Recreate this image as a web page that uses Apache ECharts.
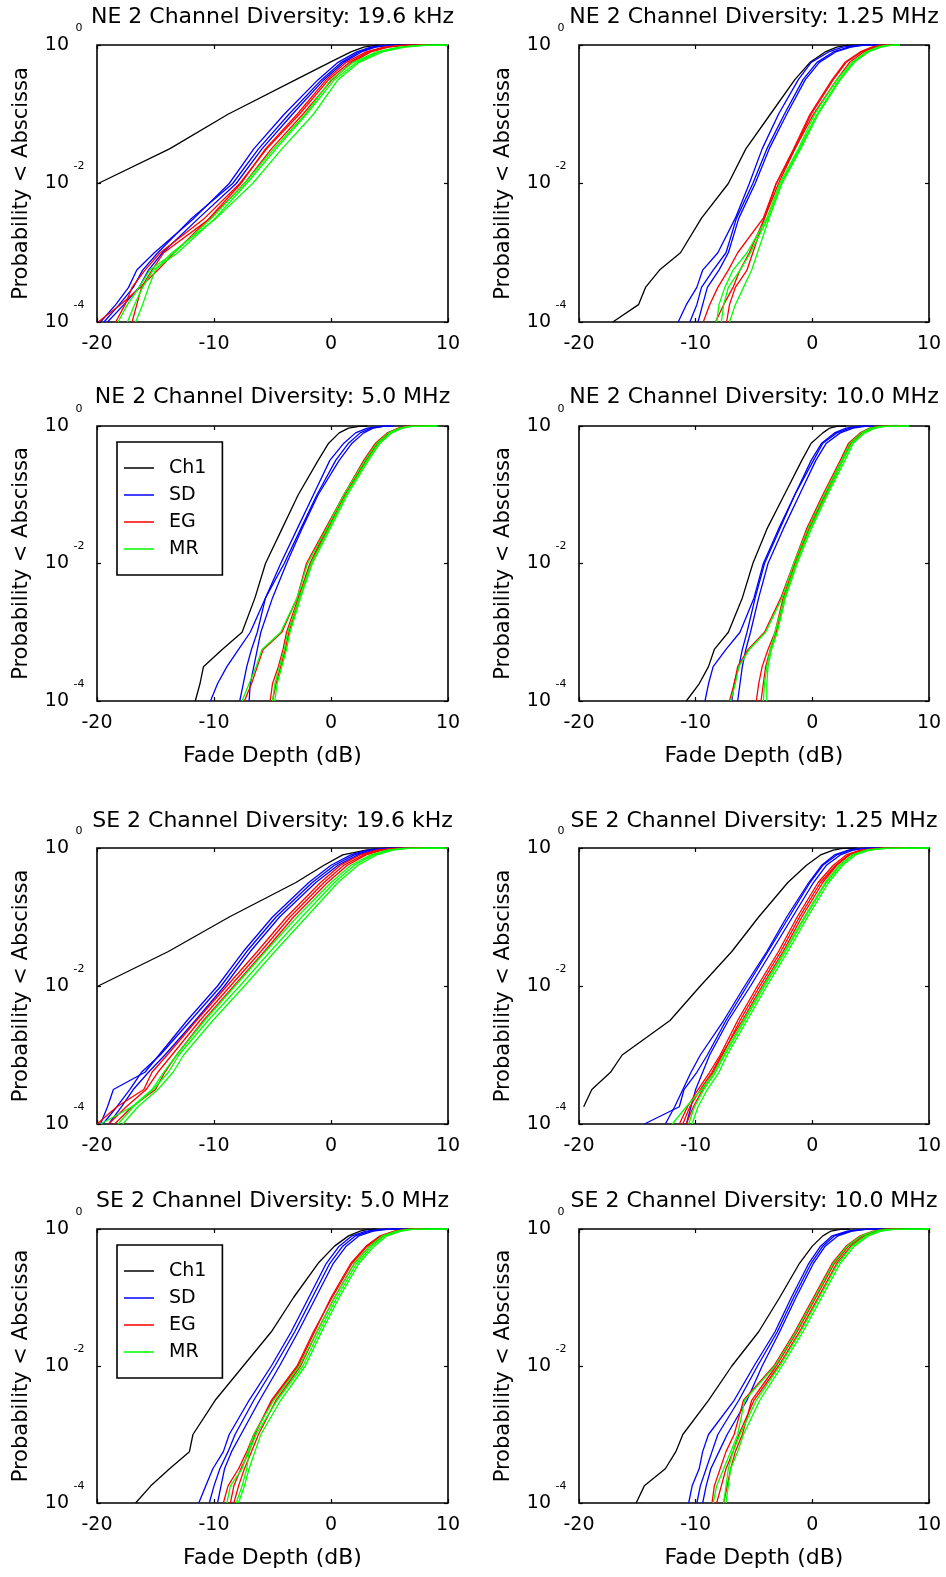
<!DOCTYPE html>
<html><head><meta charset="utf-8">
<script src="https://cdn.jsdelivr.net/npm/echarts@6/dist/echarts.min.js"></script>
<style>html,body{margin:0;padding:0;background:#fff}#c{width:946px;height:1577px}</style>
</head><body><div id="c"></div>
<script>
// Probability levels (ordinate) at which each curve's fade depth (dB) was read
const probLevels = [1e-4, 1.78e-4, 3.16e-4, 5.62e-4, 1e-3, 3.16e-3, 1e-2, 3.16e-2, 0.1, 0.316, 0.562, 0.794, 0.933, 0.989, 1];

const panelTitles = [
  'NE 2 Channel Diversity: 19.6 kHz', 'NE 2 Channel Diversity: 1.25 MHz',
  'NE 2 Channel Diversity: 5.0 MHz', 'NE 2 Channel Diversity: 10.0 MHz',
  'SE 2 Channel Diversity: 19.6 kHz', 'SE 2 Channel Diversity: 1.25 MHz',
  'SE 2 Channel Diversity: 5.0 MHz', 'SE 2 Channel Diversity: 10.0 MHz'
];
const seriesNames = ['Ch1', 'SD', 'EG', 'MR'];
const xTickValues = [-20, -10, 0, 10];
const yTickValues = [1e-4, 1e-2, 1];

// ---- NE 19.6 kHz ----
const NE_19k6_Ch1 = [null,null,null,null,null,null,-19.9,-13.8,-8.8,-3.0,-0.1,1.7,2.8,3.8,6.0];
const NE_19k6_SD = [
  [-19.7,-18.4,-17.3,-16.6,-15.1,-11.7,-8.7,-6.6,-4.0,-1.1,0.6,2.2,3.4,4.5,7.0],
  [-19.4,-18.1,-16.9,-16.1,-14.8,-11.9,-8.4,-6.2,-3.6,-0.8,0.9,2.4,3.6,4.8,7.2],
  [-19.1,-17.7,-16.4,-15.6,-14.4,-11.3,-8.1,-5.9,-3.3,-0.6,1.1,2.6,3.8,5.0,7.5]];
const NE_19k6_EG = [
  [-19.9,-18.0,-16.3,-14.8,-13.4,-10.4,-7.7,-5.6,-2.9,-0.4,1.3,3.0,4.5,5.9,8.0],
  [-18.4,-17.6,-17.0,-15.9,-14.6,-10.8,-7.8,-5.5,-2.7,-0.2,1.6,3.2,4.7,6.1,8.3],
  [-17.0,-16.6,-16.2,-15.3,-14.3,-10.3,-7.4,-5.1,-2.4,0.1,1.8,3.4,4.9,6.3,8.5]];
const NE_19k6_MR = [
  [-18.2,-17.4,-16.4,-15.5,-13.4,-10.2,-7.4,-4.9,-2.2,0.0,1.9,3.9,5.8,7.5,10],
  [-17.4,-16.8,-16.1,-15.2,-13.1,-9.9,-7.2,-4.7,-2.1,0.3,2.2,4.1,6.0,7.7,10],
  [-16.7,-16.1,-15.6,-15.0,-13.6,-9.8,-6.7,-4.2,-1.5,0.6,2.4,4.4,6.3,8.0,10]];

// ---- NE 1.25 MHz ----
const NE_1M25_Ch1 = [-17.1,-14.9,-14.3,-13.1,-11.3,-9.5,-7.2,-5.7,-3.6,-1.5,-0.2,1.1,2.1,2.9,4.9];
const NE_1M25_SD = [
  [-11.5,-10.8,-9.9,-9.4,-8.1,-6.6,-5.4,-4.3,-2.9,-1.2,-0.1,1.4,2.6,3.8,4.9],
  [-10.5,-9.9,-9.5,-8.5,-7.4,-6.5,-5.1,-3.9,-2.4,-0.8,0.4,1.8,3.1,4.1,5.5],
  [-9.8,-9.4,-9.0,-8.0,-7.2,-6.3,-4.9,-3.7,-2.2,-0.6,0.6,2.0,3.3,4.3,5.7]];
const NE_1M25_EG = [
  [-9.35,-8.8,-8.1,-7.2,-6.4,-4.2,-3.1,-1.5,0.1,2.1,3.2,4.4,5.4,6.1,6.9],
  [-8.3,-7.6,-6.8,-6.2,-5.4,-4.1,-2.9,-1.5,-0.1,1.8,2.9,4.2,5.2,5.9,6.8],
  [-7.35,-7.1,-6.6,-5.6,-5.1,-4.1,-3.1,-1.6,-0.2,1.7,2.8,4.1,5.1,5.8,6.6]];
const NE_1M25_MR = [
  [-8.2,-8.0,-7.5,-6.8,-5.6,-3.9,-2.8,-1.2,0.2,2.1,3.4,4.6,5.6,6.3,7.5],
  [-7.8,-7.6,-7.2,-6.2,-5.3,-3.8,-2.7,-1.1,0.4,2.3,3.5,4.7,5.7,6.5,7.5],
  [-7.1,-6.6,-5.9,-5.2,-4.7,-3.7,-2.6,-1.0,0.5,2.4,3.6,4.8,5.9,6.7,7.5]];

// ---- NE 5.0 MHz ----
const NE_5M0_Ch1 = [-11.6,-11.2,-10.9,-9.3,-7.6,-6.5,-5.6,-4.2,-2.8,-1.1,-0.2,0.7,1.5,2.4,3.1];
const NE_5M0_SD = [
  [-10.3,-9.7,-8.9,-7.9,-6.9,-5.6,-4.3,-2.9,-1.5,-0.1,1.1,2.1,3.1,4.2,5.1],
  [-7.8,-7.5,-7.2,-6.8,-6.3,-5.6,-4.0,-2.6,-1.2,0.4,1.5,2.5,3.4,4.4,5.2],
  [-7.0,-6.9,-6.6,-6.3,-6.0,-5.0,-3.8,-2.5,-1.1,0.7,1.8,2.8,3.6,4.5,5.4]];
const NE_5M0_EG = [
  [-7.4,-6.8,-6.3,-5.8,-4.2,-2.9,-2.1,-0.5,1.1,2.8,3.8,4.8,5.8,6.5,8.8],
  [-5.2,-5.0,-4.5,-4.1,-3.8,-2.8,-1.8,-0.4,1.1,2.9,3.9,4.9,5.8,6.5,8.5],
  [-5.0,-4.7,-4.3,-3.9,-3.6,-2.7,-1.7,-0.3,1.2,3.0,4.0,5.0,5.9,6.6,8.8]];
const NE_5M0_MR = [
  [-7.6,-7.0,-6.4,-5.9,-4.3,-2.9,-2.0,-0.4,1.1,2.9,3.9,4.9,5.9,6.7,9.0],
  [-5.0,-4.8,-4.4,-4.0,-3.7,-2.7,-1.7,-0.2,1.3,3.1,4.1,5.1,6.0,6.8,9.0],
  [-4.8,-4.6,-4.2,-3.8,-3.5,-2.6,-1.6,-0.1,1.4,3.2,4.2,5.2,6.1,6.9,9.2]];

// ---- NE 10.0 MHz ----
const NE_10M0_Ch1 = [-10.8,-9.7,-8.9,-8.4,-7.2,-6.0,-5.1,-3.9,-2.4,-0.9,-0.1,0.9,1.5,2.1,2.9];
const NE_10M0_SD = [
  [-9.2,-8.9,-8.5,-7.4,-6.2,-5.0,-4.2,-2.9,-1.5,0.1,0.9,2.1,3.2,4.1,4.9],
  [-6.9,-6.7,-6.3,-6.0,-5.6,-4.9,-4.1,-2.8,-1.5,-0.1,0.8,1.9,2.9,3.9,4.8],
  [-6.4,-6.2,-6.0,-5.7,-5.3,-4.6,-3.8,-2.5,-1.1,0.3,1.2,2.4,3.5,4.5,5.3]];
const NE_10M0_EG = [
  [-7.1,-6.7,-6.4,-5.5,-4.1,-2.7,-1.6,-0.5,0.9,2.4,3.1,4.1,4.9,5.8,8.0],
  [-4.8,-4.6,-4.3,-3.8,-3.2,-2.5,-1.5,-0.4,1.1,2.5,3.2,4.2,5.1,5.9,8.0],
  [-4.4,-4.2,-4.0,-3.6,-3.1,-2.4,-1.4,-0.3,1.2,2.6,3.3,4.3,5.2,6.0,8.2]];
const NE_10M0_MR = [
  [-7.0,-6.6,-6.3,-5.4,-4.0,-2.6,-1.6,-0.4,1.0,2.5,3.2,4.2,5.0,5.9,8.3],
  [-4.2,-4.1,-3.9,-3.6,-3.2,-2.4,-1.4,-0.2,1.2,2.6,3.4,4.4,5.3,6.1,8.3],
  [-3.9,-3.9,-3.8,-3.5,-3.0,-2.3,-1.3,-0.1,1.3,2.8,3.5,4.5,5.4,6.2,8.3]];

// ---- SE 19.6 kHz ----
const SE_19k6_Ch1 = [null,null,null,null,null,null,-19.9,-13.9,-8.7,-3.0,-0.6,1.0,3.0,4.3,6.0];
const SE_19k6_SD = [
  [-19.7,-19.1,-18.6,-15.9,-14.7,-12.3,-9.7,-7.5,-5.0,-1.9,0.0,1.7,3.1,4.5,6.8],
  [-19.5,-18.3,-17.2,-16.2,-14.6,-12.0,-9.4,-7.2,-4.7,-1.6,0.3,2.0,3.4,4.8,7.0],
  [-19.0,-17.9,-16.9,-15.6,-14.2,-11.6,-9.1,-6.9,-4.4,-1.3,0.6,2.3,3.7,5.0,7.2]];
const SE_19k6_EG = [
  [-20.0,-18.3,-16.0,-15.3,-14.0,-11.5,-8.9,-6.3,-3.8,-0.9,0.8,2.5,3.9,5.4,7.6],
  [-19.0,-17.5,-15.8,-14.8,-13.6,-11.2,-8.6,-6.0,-3.5,-0.6,1.1,2.8,4.2,5.6,7.8],
  [-18.5,-17.0,-15.0,-14.2,-13.2,-10.9,-8.3,-5.7,-3.2,-0.3,1.4,3.0,4.4,5.8,8.0]];
const SE_19k6_MR = [
  [-19.7,-17.0,-15.3,-14.3,-13.2,-10.8,-8.2,-5.6,-2.9,0.0,1.7,3.4,4.8,6.1,9.5],
  [-18.2,-16.9,-15.2,-13.9,-13.0,-10.5,-7.8,-5.2,-2.5,0.3,2.0,3.6,5.0,6.3,9.8],
  [-17.8,-16.5,-14.8,-13.5,-12.6,-10.1,-7.4,-4.8,-2.1,0.6,2.3,3.9,5.3,6.6,10]];

// ---- SE 1.25 MHz ----
const SE_1M25_Ch1 = [null,-19.6,-18.9,-17.3,-16.3,-12.2,-9.6,-6.9,-4.6,-2.1,-0.5,0.7,1.8,2.6,3.8];
const SE_1M25_SD = [
  [-14.4,-11.4,-11.0,-9.9,-9.0,-7.4,-5.6,-3.8,-2.0,-0.2,0.9,2.1,3.2,4.4,5.8],
  [-12.6,-11.8,-11.1,-10.4,-9.6,-7.6,-5.8,-3.9,-2.2,-0.3,0.8,1.9,3.1,4.2,5.5],
  [-10.8,-10.4,-10.0,-9.4,-8.8,-7.2,-5.3,-3.5,-1.7,0.1,1.2,2.4,3.5,4.6,5.9]];
const SE_1M25_EG = [
  [-11.4,-10.7,-9.8,-8.8,-7.9,-6.4,-4.7,-2.9,-1.3,0.5,1.8,2.9,4.1,5.5,7.8],
  [-10.8,-10.2,-9.4,-8.5,-7.7,-6.2,-4.5,-2.7,-1.1,0.7,2.0,3.1,4.3,5.7,8.0],
  [-11.1,-10.5,-9.6,-8.6,-7.8,-6.0,-4.3,-2.5,-0.9,0.9,2.1,3.2,4.4,5.8,8.0]];
const SE_1M25_MR = [
  [-12.0,-10.8,-9.5,-8.4,-7.6,-5.9,-4.2,-2.4,-0.7,1.1,2.3,3.4,4.6,6.0,10],
  [-10.6,-10.1,-9.3,-8.3,-7.5,-5.8,-4.1,-2.3,-0.6,1.2,2.4,3.5,4.7,6.1,10],
  [-10.3,-9.8,-9.0,-8.0,-7.3,-5.6,-3.9,-2.1,-0.4,1.4,2.6,3.7,4.9,6.3,10]];

// ---- SE 5.0 MHz ----
const SE_5M0_Ch1 = [-16.7,-15.4,-13.8,-12.1,-11.8,-9.9,-7.5,-5.1,-3.2,-1.1,0.3,1.5,2.5,3.1,3.9];
const SE_5M0_SD = [
  [-11.3,-10.7,-10.1,-9.2,-8.7,-7.0,-5.1,-3.4,-1.9,-0.4,0.7,1.8,3.0,4.2,6.0],
  [-10.4,-10.0,-9.5,-8.8,-8.2,-6.6,-4.8,-3.1,-1.6,-0.1,1.0,2.1,3.3,4.5,6.2],
  [-9.7,-9.4,-9.1,-8.5,-7.7,-6.1,-4.4,-2.8,-1.3,0.2,1.3,2.4,3.6,4.8,6.5]];
const SE_5M0_EG = [
  [-9.2,-8.8,-7.9,-7.2,-6.6,-5.0,-2.8,-1.4,0.0,1.7,3.0,4.2,5.4,6.4,7.6],
  [-8.6,-8.3,-7.7,-7.0,-6.5,-5.1,-2.9,-1.5,0.1,1.8,3.1,4.3,5.5,6.5,7.7],
  [-8.3,-7.9,-7.4,-6.8,-6.2,-4.7,-2.6,-1.2,0.3,2.0,3.3,4.5,5.7,6.7,7.9]];
const SE_5M0_MR = [
  [-8.9,-8.6,-7.6,-7.1,-6.6,-4.9,-2.7,-1.2,0.3,2.0,3.3,4.4,5.6,6.6,10],
  [-8.1,-7.6,-7.2,-7.0,-6.4,-4.6,-2.4,-1.0,0.5,2.2,3.5,4.6,5.8,6.8,10],
  [-7.9,-7.4,-7.0,-6.5,-6.0,-4.3,-2.2,-0.8,0.7,2.4,3.7,4.8,6.0,7.0,10]];

// ---- SE 10.0 MHz ----
const SE_10M0_Ch1 = [-15.1,-14.4,-12.6,-11.7,-11.1,-8.9,-6.9,-4.6,-2.8,-1.1,0.0,0.9,1.6,2.4,3.2];
const SE_10M0_SD = [
  [-10.6,-10.3,-9.7,-9.4,-8.9,-6.7,-5.0,-3.2,-1.8,-0.3,0.7,1.7,3.0,4.2,5.8],
  [-9.9,-9.6,-9.1,-8.6,-8.1,-6.3,-4.7,-3.0,-1.6,-0.1,0.9,1.9,3.2,4.4,6.0],
  [-9.4,-9.1,-8.7,-8.0,-7.3,-5.6,-4.3,-2.8,-1.4,0.1,1.1,2.2,3.4,4.6,6.2]];
const SE_10M0_EG = [
  [-8.6,-8.4,-7.9,-7.4,-6.7,-5.9,-3.3,-1.5,0.1,1.7,2.9,4.1,5.2,6.2,7.2],
  [-7.6,-7.3,-7.0,-6.6,-6.0,-5.2,-3.1,-1.3,0.3,1.9,3.1,4.3,5.4,6.4,7.4],
  [-8.2,-7.8,-7.4,-6.8,-6.3,-5.0,-2.9,-1.1,0.5,2.1,3.3,4.5,5.6,6.6,7.6]];
const SE_10M0_MR = [
  [-8.5,-8.2,-7.6,-7.0,-6.4,-5.8,-3.2,-1.4,0.2,1.8,3.0,4.2,5.3,6.4,10],
  [-7.6,-7.4,-7.2,-6.8,-6.2,-4.8,-2.8,-1.0,0.6,2.2,3.4,4.6,5.7,6.8,10],
  [-7.4,-7.2,-7.0,-6.4,-5.9,-4.5,-2.6,-0.8,0.8,2.4,3.6,4.8,5.9,7.0,10]];

// ---------------- layout / style ----------------
const FONT = 'DejaVu Sans';
const COLORS = {Ch1: '#000000', SD: '#0000ff', EG: '#ff0000', MR: '#00ff00'};
const cols = [{left: 97, width: 351}, {left: 579, width: 350}];
const rows = [
  {top: 45, height: 277, titleY: 17.5, xName: false},
  {top: 426, height: 275, titleY: 398, xName: true},
  {top: 848, height: 276, titleY: 822, xName: false},
  {top: 1229, height: 274, titleY: 1202, xName: true}
];
const panels = [
  {ch1: NE_19k6_Ch1, sd: NE_19k6_SD, eg: NE_19k6_EG, mr: NE_19k6_MR},
  {ch1: NE_1M25_Ch1, sd: NE_1M25_SD, eg: NE_1M25_EG, mr: NE_1M25_MR},
  {ch1: NE_5M0_Ch1, sd: NE_5M0_SD, eg: NE_5M0_EG, mr: NE_5M0_MR, legendTop: 442},
  {ch1: NE_10M0_Ch1, sd: NE_10M0_SD, eg: NE_10M0_EG, mr: NE_10M0_MR},
  {ch1: SE_19k6_Ch1, sd: SE_19k6_SD, eg: SE_19k6_EG, mr: SE_19k6_MR},
  {ch1: SE_1M25_Ch1, sd: SE_1M25_SD, eg: SE_1M25_EG, mr: SE_1M25_MR},
  {ch1: SE_5M0_Ch1, sd: SE_5M0_SD, eg: SE_5M0_EG, mr: SE_5M0_MR, legendTop: 1245},
  {ch1: SE_10M0_Ch1, sd: SE_10M0_SD, eg: SE_10M0_EG, mr: SE_10M0_MR}
];

function toPairs(xs) {
  const d = [];
  xs.forEach((x, i) => { if (x !== null) d.push([x, probLevels[i]]); });
  return d;
}

const grids = [], xAxes = [], yAxes = [], series = [], titles = [], legends = [];
const tickStyle = {color: '#000', width: 1.2};

panels.forEach((p, i) => {
  const r = rows[Math.floor(i / 2)], c = cols[i % 2];
  grids.push({left: c.left, top: r.top, width: c.width, height: r.height, show: true,
    borderColor: '#000', borderWidth: 1.6, backgroundColor: '#fff', outerBoundsMode: 'none', containLabel: false});
  titles.push({text: panelTitles[i], left: c.left + c.width / 2, top: r.titleY - 11.5, textAlign: 'center', padding: 0,
    textStyle: {fontFamily: FONT, fontSize: 22, fontWeight: 'normal', color: '#000'}});
  // bottom & top x axes
  xAxes.push({gridIndex: i, type: 'value', min: -20, max: 10, interval: 10, position: 'bottom',
    axisLine: {show: false, onZero: false}, splitLine: {show: false},
    axisTick: {inside: true, length: 4, lineStyle: tickStyle},
    axisLabel: {fontFamily: FONT, fontSize: 19, color: '#000', margin: 13},
    name: r.xName ? 'Fade Depth (dB)' : '', nameLocation: 'middle', nameGap: 44,
    nameTextStyle: {fontFamily: FONT, fontSize: 22, color: '#000'}});
  xAxes.push({gridIndex: i, type: 'value', min: -20, max: 10, interval: 10, position: 'top',
    axisLine: {show: false, onZero: false}, splitLine: {show: false},
    axisTick: {inside: true, length: 4, lineStyle: tickStyle}, axisLabel: {show: false}});
  // left & right y axes (log)
  yAxes.push({gridIndex: i, type: 'log', logBase: 10, min: 1e-4, max: 1, position: 'left',
    axisLine: {show: false, onZero: false}, splitLine: {show: false}, minorTick: {show: false},
    axisTick: {inside: true, length: 4, lineStyle: tickStyle, customValues: yTickValues},
    axisLabel: {customValues: yTickValues, margin: 11,
      formatter: v => '{a|10}{s|' + Math.round(Math.log10(v)) + '}',
      rich: {
        a: {fontFamily: FONT, fontSize: 19, color: '#000'},
        s: {fontFamily: FONT, fontSize: 11, color: '#000', padding: [0, 0, 34, 3], width: 14, align: 'left'}
      }},
    name: 'Probability < Abscissa', nameLocation: 'middle', nameGap: 65,
    nameTextStyle: {fontFamily: FONT, fontSize: 21, color: '#000'}});
  yAxes.push({gridIndex: i, type: 'log', logBase: 10, min: 1e-4, max: 1, position: 'right',
    axisLine: {show: false, onZero: false}, splitLine: {show: false}, minorTick: {show: false},
    axisTick: {inside: true, length: 4, lineStyle: tickStyle, customValues: yTickValues},
    axisLabel: {show: false}});

  const groups = [['Ch1', [p.ch1]], ['SD', p.sd], ['EG', p.eg], ['MR', p.mr]];
  groups.forEach(([name, curves]) => {
    curves.forEach(xs => {
      series.push({type: 'line', name, xAxisIndex: 2 * i, yAxisIndex: 2 * i, data: toPairs(xs),
        symbol: 'none', showSymbol: false, silent: true, animation: false, clip: true,
        emphasis: {disabled: true},
        lineStyle: {color: COLORS[name], width: 1.3}, itemStyle: {color: COLORS[name]}});
    });
  });

  if (p.legendTop) {
    legends.push({data: seriesNames, orient: 'vertical', left: 117, top: p.legendTop,
      icon: 'rect', itemWidth: 30, itemHeight: 1.5, itemGap: 7, padding: [16, 16, 16, 7],
      borderColor: '#000', borderWidth: 1.6, backgroundColor: '#fff', selectedMode: false,
      textStyle: {fontFamily: FONT, fontSize: 19, color: '#000', lineHeight: 20, padding: [0, 0, 0, 10]}});
  }
});

const chart = echarts.init(document.getElementById('c'), null, {renderer: 'canvas'});
chart.setOption({
  animation: false,
  backgroundColor: '#fff',
  title: titles,
  legend: legends,
  grid: grids,
  xAxis: xAxes,
  yAxis: yAxes,
  series: series
});
</script></body></html>
